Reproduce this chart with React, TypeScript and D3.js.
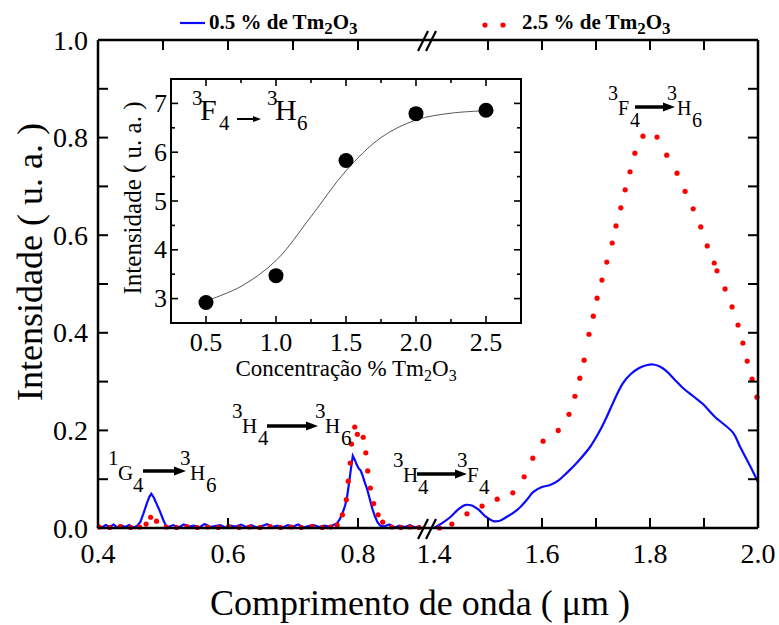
import React from "react";
import * as d3 from "d3";

// ---------- data ----------
const blueLeft: [number, number][] = [
  [0.400, 0.004], [0.406, 0.001], [0.412, 0.006], [0.418, 0.002], [0.424, 0.007], [0.430, 0.001], [0.436, 0.005], [0.442, 0.002], [0.448, 0.006], [0.454, 0.001], [0.460, 0.004],
  [0.465, 0.012], [0.470, 0.030], [0.475, 0.050], [0.479, 0.064], [0.482, 0.070], [0.486, 0.062], [0.490, 0.050], [0.495, 0.035], [0.500, 0.018], [0.504, 0.006], [0.508, 0.002],
  [0.516, 0.006], [0.524, 0.001], [0.532, 0.007], [0.540, 0.003], [0.548, 0.005], [0.556, 0.001], [0.564, 0.008], [0.572, 0.002], [0.580, 0.004], [0.588, 0.006], [0.596, 0.001],
  [0.604, 0.005], [0.612, 0.003], [0.620, 0.007], [0.628, 0.002], [0.636, 0.006], [0.644, 0.001], [0.652, 0.004], [0.660, 0.008], [0.668, 0.002], [0.676, 0.005], [0.684, 0.001],
  [0.692, 0.006], [0.700, 0.003], [0.708, 0.007], [0.716, 0.001], [0.724, 0.004], [0.732, 0.006], [0.740, 0.002], [0.748, 0.005], [0.756, 0.003], [0.762, 0.006],
  [0.768, 0.010], [0.772, 0.018], [0.776, 0.030], [0.780, 0.045], [0.783, 0.062], [0.786, 0.090], [0.789, 0.120], [0.792, 0.148], [0.795, 0.140], [0.798, 0.130],
  [0.801, 0.122], [0.804, 0.118], [0.807, 0.108], [0.810, 0.095], [0.814, 0.080], [0.818, 0.060], [0.822, 0.040], [0.826, 0.024], [0.830, 0.012], [0.834, 0.005],
  [0.840, 0.003], [0.848, 0.007], [0.856, 0.001], [0.864, 0.005], [0.872, 0.002], [0.880, 0.006], [0.888, 0.001], [0.895, 0.004],
];

const blueRight: [number, number][] = [
  [1.400, 0.000], [1.415, 0.010], [1.430, 0.022], [1.445, 0.038], [1.457, 0.047], [1.470, 0.046], [1.482, 0.038], [1.495, 0.024], [1.510, 0.014], [1.522, 0.015],
  [1.535, 0.023], [1.548, 0.032], [1.560, 0.043], [1.572, 0.058], [1.584, 0.074], [1.600, 0.084], [1.615, 0.088], [1.630, 0.097], [1.646, 0.113], [1.668, 0.138],
  [1.689, 0.166], [1.705, 0.195], [1.720, 0.228], [1.735, 0.265], [1.750, 0.297], [1.765, 0.316], [1.780, 0.328], [1.795, 0.334], [1.806, 0.335], [1.818, 0.331],
  [1.830, 0.322], [1.845, 0.305], [1.861, 0.287], [1.880, 0.270], [1.898, 0.254], [1.920, 0.228], [1.954, 0.195], [1.967, 0.166], [1.985, 0.128], [2.000, 0.094],
];

const redLeft: [number, number][] = [
  [0.402, 0.002], [0.418, 0.001], [0.434, 0.003], [0.450, 0.001], [0.464, 0.002], [0.474, 0.008], [0.481, 0.022], [0.490, 0.014], [0.505, 0.002], [0.521, 0.001],
  [0.537, 0.003], [0.553, 0.001], [0.569, 0.002], [0.585, 0.001], [0.601, 0.003], [0.617, 0.001], [0.633, 0.002], [0.649, 0.001], [0.665, 0.003], [0.681, 0.001],
  [0.697, 0.002], [0.713, 0.001], [0.729, 0.003], [0.745, 0.001], [0.758, 0.002],
  [0.768, 0.006], [0.776, 0.027], [0.782, 0.058], [0.785, 0.096], [0.788, 0.133], [0.790, 0.172], [0.795, 0.207], [0.799, 0.192], [0.808, 0.186], [0.812, 0.154],
  [0.815, 0.117], [0.819, 0.082], [0.824, 0.050], [0.831, 0.027], [0.838, 0.012], [0.852, 0.002], [0.866, 0.001], [0.880, 0.002], [0.894, 0.001],
];

const redRight: [number, number][] = [
  [1.410, 0.000], [1.433, 0.008], [1.461, 0.029], [1.489, 0.045], [1.517, 0.059], [1.546, 0.072], [1.567, 0.105], [1.583, 0.143], [1.602, 0.178], [1.630, 0.200],
  [1.650, 0.233], [1.661, 0.270], [1.670, 0.307], [1.678, 0.344], [1.687, 0.397], [1.695, 0.434], [1.702, 0.471], [1.711, 0.508], [1.720, 0.545], [1.730, 0.584],
  [1.737, 0.619], [1.746, 0.656], [1.754, 0.693], [1.763, 0.730], [1.772, 0.768], [1.787, 0.803], [1.813, 0.801], [1.831, 0.764], [1.850, 0.727], [1.865, 0.690],
  [1.880, 0.654], [1.894, 0.617], [1.906, 0.578], [1.919, 0.543], [1.924, 0.527], [1.939, 0.490], [1.952, 0.453], [1.963, 0.416], [1.972, 0.379], [1.980, 0.342],
  [1.989, 0.305], [1.998, 0.268],
];

const leftTickLabels = [0.4, 0.6, 0.8];
const rightTickLabels = [1.4, 1.6, 1.8, 2.0];
const yTickLabels = [0, 0.2, 0.4, 0.6, 0.8, 1.0];

const insetConc = [0.5, 1.0, 1.5, 2.0, 2.5];
const insetIntensity = [2.92, 3.47, 5.83, 6.79, 6.86];
const insetFitX = [0.5, 0.75, 1.0, 1.25, 1.5, 1.75, 2.0, 2.25, 2.5];
const insetFitY = [2.95, 3.25, 3.78, 4.68, 5.62, 6.3, 6.66, 6.8, 6.85];
const insetXTicks = [0.5, 1.0, 1.5, 2.0, 2.5];
const insetYTicks = [3, 4, 5, 6, 7];

const FONT = "Liberation Serif, Times New Roman, DejaVu Serif, serif";
const BLUE = "#0a0aff";
const RED = "#ff0000";
const TXT: React.CSSProperties = { fontFamily: FONT };

function Arrow({ x1, x2, y, w = 3.5, hl = 12, hw = 4.5 }: { x1: number; x2: number; y: number; w?: number; hl?: number; hw?: number }) {
  return (
    <g>
      <line x1={x1} x2={x2 - hl + 1} y1={y} y2={y} stroke="#000" strokeWidth={w} />
      <path d={`M${x2},${y} L${x2 - hl},${y - hw} L${x2 - hl},${y + hw} Z`} fill="#000" />
    </g>
  );
}

function Term({ x, y, sup, letter, sub, letterX, subX, size = 21, digit = 21, supDy = 15, subDy = 12 }: any) {
  return (
    <g style={TXT} fill="#000">
      <text style={TXT} x={x} y={y - supDy} fontSize={digit}>{sup}</text>
      <text style={TXT} x={letterX} y={y} fontSize={size}>{letter}</text>
      <text style={TXT} x={subX} y={y + subDy} fontSize={digit}>{sub}</text>
    </g>
  );
}

export default function App() {
  const xl = d3.scaleLinear().domain([0.4, 0.9]).range([98, 423]);
  const xr = d3.scaleLinear().domain([1.4, 2.0]).range([434, 758]);
  const y = d3.scaleLinear().domain([0, 1]).range([528, 40]);

  const lineL = d3.line<[number, number]>().x((d) => xl(d[0])).y((d) => y(d[1]));
  const lineR = d3
    .line<[number, number]>()
    .x((d) => xr(d[0]))
    .y((d) => y(d[1]))
    .curve(d3.curveCatmullRom);

  const ix = d3.scaleLinear().domain([0.25, 2.75]).range([171, 521]);
  const iy = d3.scaleLinear().domain([2.5, 7.5]).range([323, 79]);
  const fitLine = d3
    .line<number>()
    .x((_, i) => ix(insetFitX[i]))
    .y((d) => iy(d))
    .curve(d3.curveCatmullRom);

  const L = 98, R = 758, T = 40, B = 528;
  const yMinor = d3.range(0, 11).map((i) => i / 10);
  const topLeftTicks = [0.5, 0.6, 0.7, 0.8];
  const rightMinor = [1.5, 1.6, 1.7, 1.8, 1.9];
  const bottomLeftTicks = [0.6, 0.8];

  const ixMinor = d3.range(0, 11).map((i) => 0.25 + i * 0.25);
  const iyMinor = d3.range(0, 11).map((i) => 2.5 + i * 0.5);

  const breakMarks = (yy: number) => (
    <g stroke="#000" strokeWidth={2.2}>
      <line x1={418} y1={yy + 11} x2={428} y2={yy - 9} />
      <line x1={426} y1={yy + 11} x2={436} y2={yy - 9} />
    </g>
  );

  return (
    <svg width={779} height={625} style={{ position: "absolute", left: 0, top: 0, background: "#fff", fontFamily: FONT }}>
      <rect x={0} y={0} width={779} height={625} fill="#fff" />

      {/* data */}
      <path d={lineL(blueLeft) || ""} fill="none" stroke={BLUE} strokeWidth={2.2} />
      <path d={lineR(blueRight) || ""} fill="none" stroke={BLUE} strokeWidth={2.2} />
      {redLeft.map((d, i) => (
        <circle key={"rl" + i} cx={xl(d[0])} cy={y(d[1])} r={2.6} fill={RED} />
      ))}
      {redRight.map((d, i) => (
        <circle key={"rr" + i} cx={xr(d[0])} cy={y(d[1])} r={2.6} fill={RED} />
      ))}

      {/* frame */}
      <g stroke="#000" strokeWidth={2.5} fill="none">
        <line x1={L} x2={R} y1={T} y2={T} />
        <line x1={L} x2={R} y1={B} y2={B} />
        <line x1={L} x2={L} y1={T} y2={B} />
        <line x1={R} x2={R} y1={T} y2={B} />
      </g>
      <g stroke="#000" strokeWidth={2}>
        {yMinor.map((v) => (
          <g key={"yt" + v}>
            <line x1={L} x2={L + 10} y1={y(v)} y2={y(v)} />
            <line x1={R} x2={R - 10} y1={y(v)} y2={y(v)} />
          </g>
        ))}
        {topLeftTicks.map((v) => (
          <line key={"tl" + v} x1={xl(v)} x2={xl(v)} y1={T} y2={T + 10} />
        ))}
        {rightMinor.map((v) => (
          <g key={"rm" + v}>
            <line x1={xr(v)} x2={xr(v)} y1={T} y2={T + 10} />
            <line x1={xr(v)} x2={xr(v)} y1={B} y2={B - 10} />
          </g>
        ))}
        {bottomLeftTicks.map((v) => (
          <line key={"bl" + v} x1={xl(v)} x2={xl(v)} y1={B} y2={B - 10} />
        ))}
      </g>
      {breakMarks(T)}
      {breakMarks(B)}

      {/* tick labels */}
      <g fontSize={28} fill="#000" textAnchor="middle" style={TXT}>
        {leftTickLabels.map((v) => (
          <text style={TXT} key={"xl" + v} x={xl(v)} y={563}>{v.toFixed(1)}</text>
        ))}
        {rightTickLabels.map((v) => (
          <text style={TXT} key={"xr" + v} x={xr(v)} y={563}>{v.toFixed(1)}</text>
        ))}
      </g>
      <g fontSize={28} fill="#000" textAnchor="end" style={TXT}>
        {yTickLabels.map((v) => (
          <text style={TXT} key={"yl" + v} x={88} y={y(v) + 9.5}>{v.toFixed(1)}</text>
        ))}
      </g>

      {/* axis titles */}
      <text style={TXT} x={420} y={615} fontSize={36} textAnchor="middle" fill="#000">Comprimento de onda ( μm )</text>
      <text style={TXT} transform="translate(42,262) rotate(-90)" fontSize={36} textAnchor="middle" fill="#000">Intensidade ( u. a. )</text>

      {/* legend */}
      <line x1={180} x2={205} y1={23} y2={23} stroke={BLUE} strokeWidth={2.2} />
      <text style={TXT} x={209} y={29} fontSize={21} fontWeight="bold" fill="#000">
        0.5 % de Tm<tspan dy={5} fontSize={17}>2</tspan><tspan dy={-5}>O</tspan><tspan dy={5} fontSize={17}>3</tspan>
      </text>
      <circle cx={485} cy={25} r={2.6} fill={RED} />
      <circle cx={503} cy={25} r={2.6} fill={RED} />
      <text style={TXT} x={522} y={29} fontSize={21} fontWeight="bold" fill="#000">
        2.5 % de Tm<tspan dy={5} fontSize={17}>2</tspan><tspan dy={-5}>O</tspan><tspan dy={5} fontSize={17}>3</tspan>
      </text>

      {/* annotations */}
      <Term x={108} letterX={118} subX={133} y={480} sup="1" letter="G" sub="4" />
      <Arrow x1={143} x2={186} y={471} />
      <Term x={180} letterX={190} subX={206} y={480} sup="3" letter="H" sub="6" />

      <Term x={232} letterX={242} subX={258} y={433} sup="3" letter="H" sub="4" />
      <Arrow x1={267} x2={318} y={426} />
      <Term x={315} letterX={325} subX={341} y={433} sup="3" letter="H" sub="6" />

      <Term x={393} letterX={403} subX={418} y={482} sup="3" letter="H" sub="4" />
      <Arrow x1={417} x2={467} y={474} />
      <Term x={457} letterX={467} subX={479} y={482} sup="3" letter="F" sub="4" />

      <Term x={608} letterX={618} subX={630} y={115} sup="3" letter="F" sub="4" size={20} digit={20} />
      <Arrow x1={635} x2={675} y={107} />
      <Term x={667} letterX={677} subX={692} y={115} sup="3" letter="H" sub="6" size={20} digit={20} />

      {/* inset */}
      <rect x={171} y={79} width={350} height={244} fill="#fff" stroke="none" />
      <path d={fitLine(insetFitY) || ""} fill="none" stroke="#555" strokeWidth={1} />
      {insetConc.map((c, i) => (
        <circle key={"ip" + i} cx={ix(c)} cy={iy(insetIntensity[i])} r={7.5} fill="#000" />
      ))}
      <rect x={171} y={79} width={350} height={244} fill="none" stroke="#000" strokeWidth={2} />
      <g stroke="#000" strokeWidth={1.6}>
        {ixMinor.map((v, i) => {
          const len = i % 2 === 1 ? 7 : 4;
          return (
            <g key={"ixm" + i}>
              <line x1={ix(v)} x2={ix(v)} y1={323} y2={323 - len} />
              <line x1={ix(v)} x2={ix(v)} y1={79} y2={79 + len} />
            </g>
          );
        })}
        {iyMinor.map((v, i) => {
          const len = i % 2 === 1 ? 7 : 4;
          return (
            <g key={"iym" + i}>
              <line x1={171} x2={171 + len} y1={iy(v)} y2={iy(v)} />
              <line x1={521} x2={521 - len} y1={iy(v)} y2={iy(v)} />
            </g>
          );
        })}
      </g>
      <g fontSize={26} fill="#000" textAnchor="middle" style={TXT}>
        {insetXTicks.map((v) => (
          <text style={TXT} key={"ixt" + v} x={ix(v)} y={351}>{v.toFixed(1)}</text>
        ))}
      </g>
      <g fontSize={26} fill="#000" textAnchor="end" style={TXT}>
        {insetYTicks.map((v) => (
          <text style={TXT} key={"iyt" + v} x={167} y={iy(v) + 8.5}>{v}</text>
        ))}
      </g>
      <text style={TXT} x={346} y={376} fontSize={23} textAnchor="middle" fill="#000">
        Concentração % Tm<tspan dy={5} fontSize={16}>2</tspan><tspan dy={-5}>O</tspan><tspan dy={5} fontSize={16}>3</tspan>
      </text>
      <text style={TXT} transform="translate(141,198) rotate(-90)" fontSize={25} textAnchor="middle" fill="#000">Intensidade ( u. a. )</text>

      <Term x={192} letterX={200} subX={219} y={120} sup="3" letter="F" sub="4" size={30} digit={21} supDy={15} subDy={10} />
      <Arrow x1={237} x2={261} y={119} w={2} hl={8} hw={3} />
      <Term x={267} letterX={275} subX={297} y={120} sup="3" letter="H" sub="6" size={30} digit={21} supDy={15} subDy={10} />
    </svg>
  );
}
